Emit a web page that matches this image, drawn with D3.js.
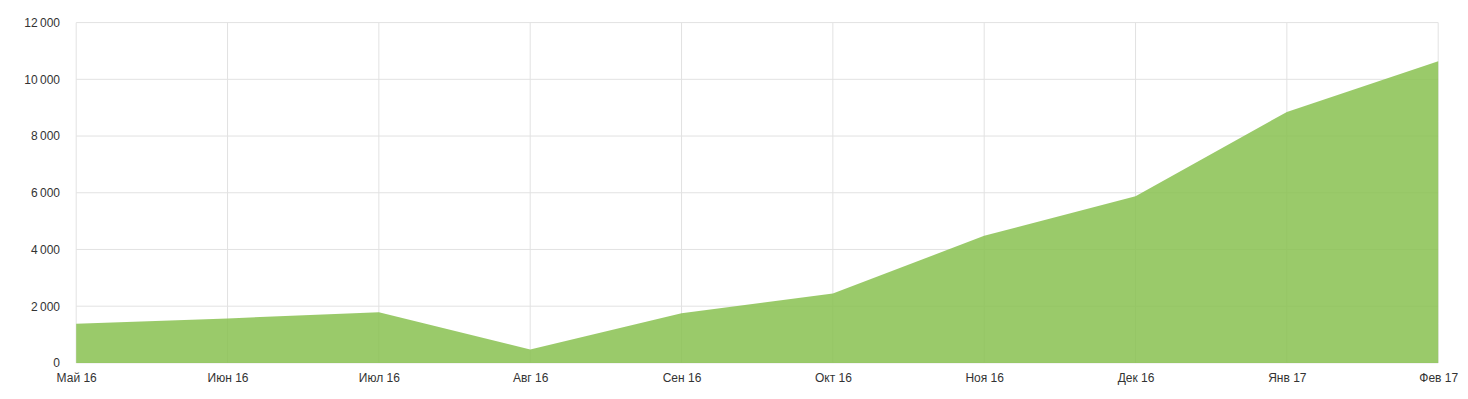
<!DOCTYPE html>
<html>
<head>
<meta charset="utf-8">
<script src="https://cdn.jsdelivr.net/npm/d3@7"></script>
<style>
  html, body { margin: 0; padding: 0; background: #fff; }
  svg { display: block; }
  text { font-family: "Liberation Sans", Arial, sans-serif; font-size: 12px; fill: #333; }
</style>
</head>
<body>
<svg id="chart" width="1468" height="399"></svg>
<script>
const months = ["Май 16", "Июн 16", "Июл 16", "Авг 16", "Сен 16", "Окт 16", "Ноя 16", "Дек 16", "Янв 17", "Фев 17"];
const values = [1380, 1570, 1790, 470, 1750, 2450, 4480, 5880, 8850, 10640];
const yTicks = [0, 2000, 4000, 6000, 8000, 10000, 12000];

(function () {
const svg = d3.select("#chart");
const pLeft = 76.2, pRight = 1438.2, pTop = 22.6, pBottom = 362.9;

const x = d3.scalePoint().domain(months).range([pLeft, pRight]);
const y = d3.scaleLinear().domain([0, 12000]).range([pBottom, pTop]);

const fmt = v => d3.format(",")(v).replace(/,/g, "\u2009");

// grid
const grid = svg.append("g");
grid.selectAll("line.h").data(yTicks).join("line")
  .attr("x1", pLeft).attr("x2", pRight)
  .attr("y1", d => y(d)).attr("y2", d => y(d))
  .attr("stroke", "#e2e2e2").attr("stroke-width", 1);
grid.selectAll("line.v").data(months).join("line")
  .attr("x1", d => x(d)).attr("x2", d => x(d))
  .attr("y1", pTop).attr("y2", pBottom)
  .attr("stroke", "#e2e2e2").attr("stroke-width", 1);

// area
const area = d3.area()
  .x((d, i) => x(months[i]))
  .y0(y(0))
  .y1(d => y(d));
svg.append("path")
  .datum(values)
  .attr("d", area)
  .attr("fill", "#88c150")
  .attr("fill-opacity", 0.85);

// y axis labels
const yAxis = d3.axisLeft(y).tickValues(yTicks).tickFormat(fmt).tickSize(0).tickPadding(0);
const gy = svg.append("g").attr("transform", "translate(60,0)").call(yAxis);
gy.select(".domain").remove();
gy.selectAll("text").attr("font-size", 12).attr("font-family", "Liberation Sans, Arial, sans-serif").attr("fill", "#333");

// x axis labels
const xAxis = d3.axisBottom(x).tickSize(0).tickPadding(0);
const gx = svg.append("g").attr("transform", "translate(0,373.5)").call(xAxis);
gx.select(".domain").remove();
gx.selectAll("text").attr("font-size", 12).attr("font-family", "Liberation Sans, Arial, sans-serif").attr("fill", "#333");
})();
</script>
</body>
</html>
